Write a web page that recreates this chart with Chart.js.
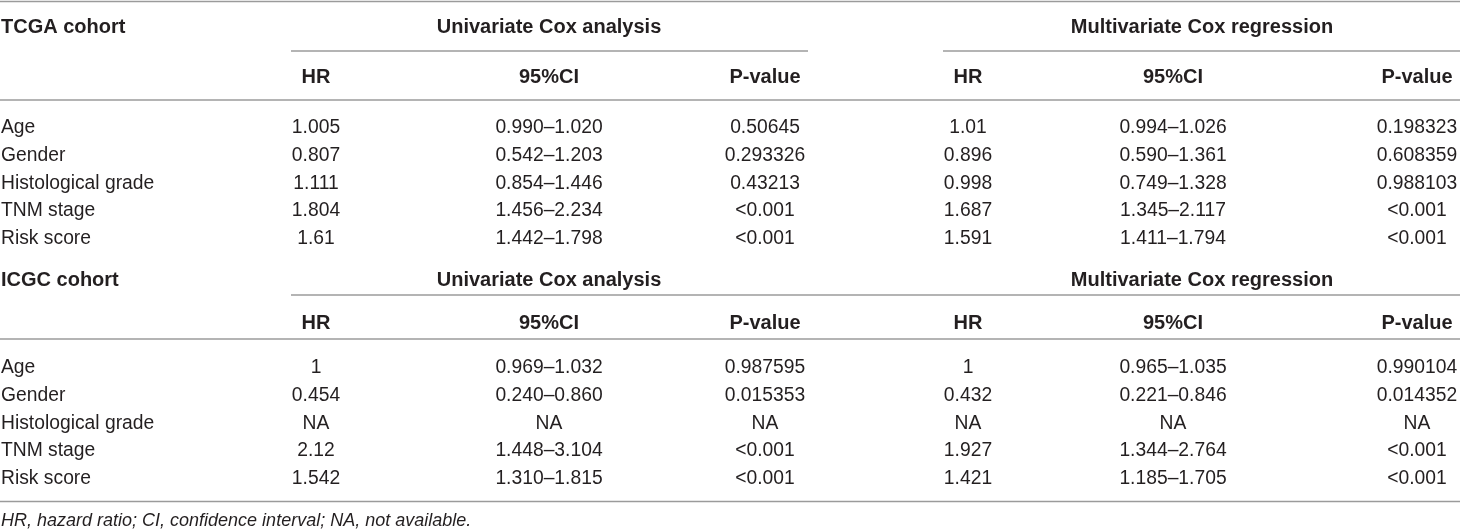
<!DOCTYPE html>
<html>
<head>
<meta charset="utf-8">
<script src="https://cdn.jsdelivr.net/npm/chart.js@4.4.0/dist/chart.umd.min.js"></script>
<style>
  html, body { margin: 0; padding: 0; background: #ffffff; }
  #wrap { width: 1460px; height: 531px; position: relative; }
</style>
</head>
<body>
<div id="wrap"><canvas id="coxTable"></canvas></div>
<script>
// table content
var variables = ["Age", "Gender", "Histological grade", "TNM stage", "Risk score"];
var colHeaders = ["HR", "95%CI", "P-value"];
var groupHeaders = ["Univariate Cox analysis", "Multivariate Cox regression"];
var footnote = "HR, hazard ratio; CI, confidence interval; NA, not available.";

// TCGA cohort
var tcgaUniHR = ["1.005", "0.807", "1.111", "1.804", "1.61"];
var tcgaUniCI = ["0.990–1.020", "0.542–1.203", "0.854–1.446", "1.456–2.234", "1.442–1.798"];
var tcgaUniP = ["0.50645", "0.293326", "0.43213", "<0.001", "<0.001"];
var tcgaMultiHR = ["1.01", "0.896", "0.998", "1.687", "1.591"];
var tcgaMultiCI = ["0.994–1.026", "0.590–1.361", "0.749–1.328", "1.345–2.117", "1.411–1.794"];
var tcgaMultiP = ["0.198323", "0.608359", "0.988103", "<0.001", "<0.001"];

// ICGC cohort
var icgcUniHR = ["1", "0.454", "NA", "2.12", "1.542"];
var icgcUniCI = ["0.969–1.032", "0.240–0.860", "NA", "1.448–3.104", "1.310–1.815"];
var icgcUniP = ["0.987595", "0.015353", "NA", "<0.001", "<0.001"];
var icgcMultiHR = ["1", "0.432", "NA", "1.927", "1.421"];
var icgcMultiCI = ["0.965–1.035", "0.221–0.846", "NA", "1.344–2.764", "1.185–1.705"];
var icgcMultiP = ["0.990104", "0.014352", "NA", "<0.001", "<0.001"];

document.addEventListener("DOMContentLoaded", function () {
  var canvas = document.getElementById("coxTable");
  var context = canvas.getContext("2d");

  var FONT = "'Liberation Sans', Arial, Helvetica, sans-serif";
  var TEXT = "#231f20";
  var RULE = "#9b9b9b";

  // layout (in scale units)
  var colX = [316, 549, 765, 968, 1173, 1417];
  var groupX = [549, 1202];
  var groupSpan = [[291, 808], [943, 1460]];
  var rowStep = 27.6;

  var sections = [
    {
      title: "TCGA cohort",
      top: 1.5, head: 27, under: 51, sub: 77, rule: 100, first: 128,
      splitUnderline: true,
      cols: [tcgaUniHR, tcgaUniCI, tcgaUniP, tcgaMultiHR, tcgaMultiCI, tcgaMultiP]
    },
    {
      title: "ICGC cohort",
      top: null, head: 280, under: 295, sub: 323, rule: 339, first: 368,
      splitUnderline: false,
      cols: [icgcUniHR, icgcUniCI, icgcUniP, icgcMultiHR, icgcMultiCI, icgcMultiP]
    }
  ];
  var bottomRule = 501.5;
  var footY = 521;

  var tablePlugin = {
    id: "tablePlugin",
    afterDraw: function (chart) {
      var ctx = chart.ctx;
      var xs = chart.scales.x;
      var ys = chart.scales.y;
      var px = function (v) { return xs.getPixelForValue(v); };
      var py = function (v) { return ys.getPixelForValue(v); };

      function hline(y, x0, x1) {
        ctx.beginPath();
        ctx.moveTo(px(x0), py(y));
        ctx.lineTo(px(x1), py(y));
        ctx.stroke();
      }
      function text(str, x, y, align, font) {
        ctx.font = font;
        ctx.textAlign = align;
        ctx.fillText(str, px(x), py(y));
      }
      var regular = "normal 19.3px " + FONT;
      var bold = "bold 20px " + FONT;
      var italic = "italic 18px " + FONT;

      ctx.save();
      ctx.strokeStyle = RULE;
      ctx.lineWidth = 1.5;
      ctx.fillStyle = TEXT;
      ctx.textBaseline = "middle";

      sections.forEach(function (s) {
        if (s.top !== null) hline(s.top, 0, 1460);
        if (s.splitUnderline) {
          groupSpan.forEach(function (g) { hline(s.under, g[0], g[1]); });
        } else {
          hline(s.under, groupSpan[0][0], groupSpan[1][1]);
        }
        hline(s.rule, 0, 1460);

        text(s.title, 1, s.head, "left", bold);
        groupHeaders.forEach(function (g, i) { text(g, groupX[i], s.head, "center", bold); });
        colX.forEach(function (x, i) { text(colHeaders[i % 3], x, s.sub, "center", bold); });

        variables.forEach(function (v, r) {
          var y = s.first + r * rowStep;
          text(v, 1, y, "left", regular);
          s.cols.forEach(function (col, c) { text(col[r], colX[c], y, "center", regular); });
        });
      });

      hline(bottomRule, 0, 1460);
      text(footnote, 1, footY, "left", italic);
      ctx.restore();
    }
  };

  new Chart(context, {
    type: "scatter",
    data: { datasets: [{ data: [], pointRadius: 0 }] },
    options: {
      responsive: true,
      maintainAspectRatio: false,
      animation: false,
      layout: { padding: 0 },
      plugins: { legend: { display: false }, tooltip: { enabled: false } },
      scales: {
        x: { type: "linear", min: 0, max: 1460, display: false },
        y: { type: "linear", min: 0, max: 531, reverse: true, display: false }
      }
    },
    plugins: [tablePlugin]
  });
});
</script>
</body>
</html>
